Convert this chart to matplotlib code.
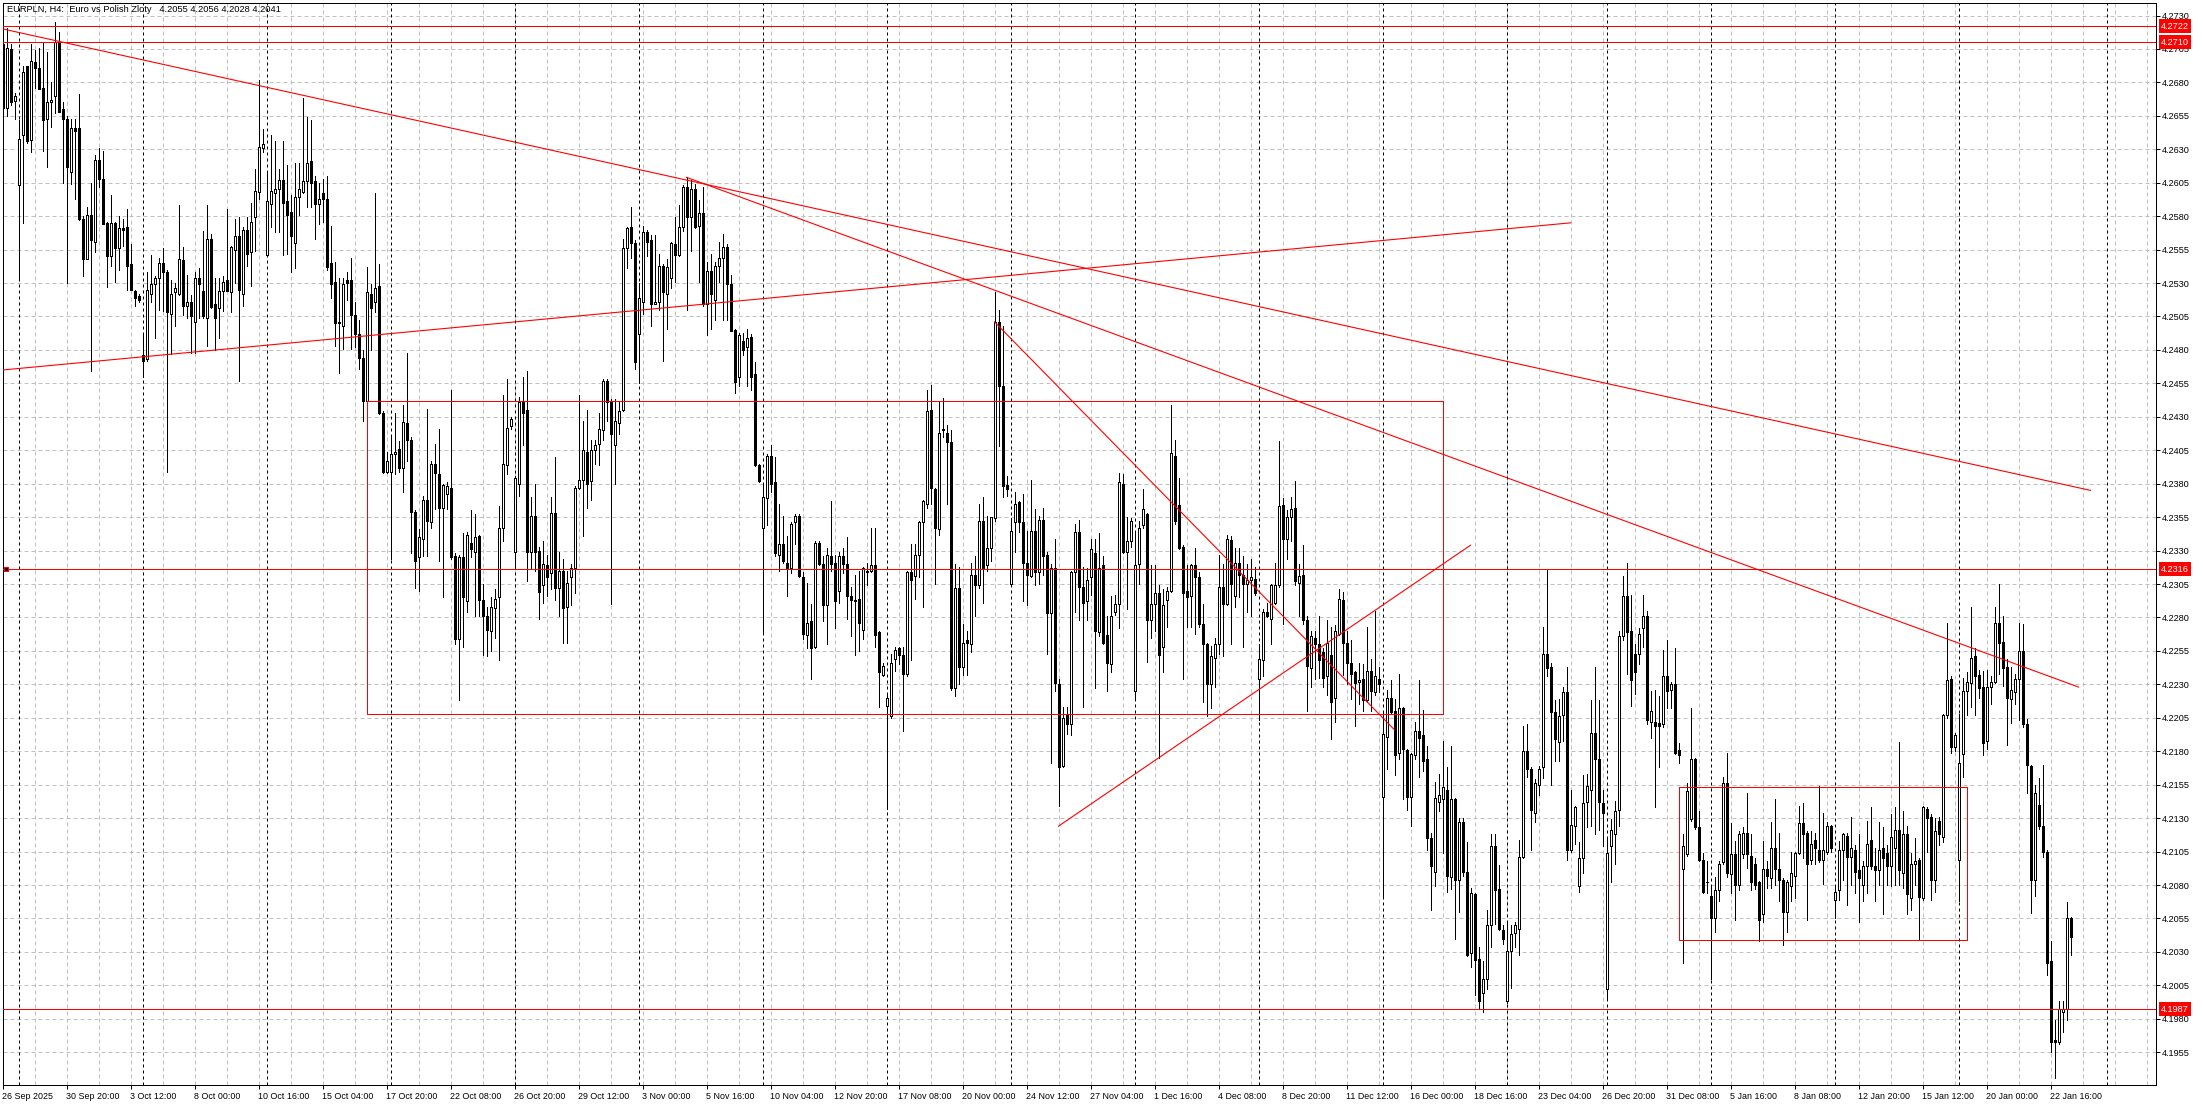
import numpy as np
import matplotlib
matplotlib.use('Agg')
import matplotlib.pyplot as plt
from matplotlib.transforms import blended_transform_factory

plt.rcParams['font.family'] = ['Liberation Sans', 'DejaVu Sans']

# H4 candles, one list per week: open, high, low, close as the digits after "4."
week01 = [(2709,2720,2661,2661),(2661,2721,2655,2706),(2705,2709,2663,2665),(2666,2672,2653,2670)]
week02 = [(2603,2652,2534,2638),(2641,2692,2575,2688),(2692,2692,2635,2636),(2637,2709,2628,2696),(2695,2704,2676,2691),
          (2691,2706,2675,2675),(2676,2710,2629,2652),(2653,2703,2617,2665),(2665,2680,2647,2667),(2670,2725,2657,2710),
          (2710,2718,2658,2658),(2660,2665,2605,2653),(2653,2655,2530,2617),(2613,2653,2604,2646),(2646,2653,2593,2644),
          (2646,2671,2577,2578),(2578,2580,2535,2548),(2548,2587,2548,2581),(2581,2605,2464,2562),(2561,2626,2553,2622),
          (2622,2631,2602,2608),(2608,2629,2574,2574),(2575,2576,2527,2550),(2550,2596,2543,2575),(2575,2576,2531,2556),
          (2556,2580,2540,2571),(2571,2578,2558,2570),(2572,2585,2525,2543),(2544,2559,2525,2525),(2524,2525,2513,2519),
          (2520,2522,2516,2517)]
week03 = [(2476,2493,2460,2472),(2473,2538,2472,2525),(2522,2551,2516,2529),(2529,2535,2489,2534),(2534,2549,2510,2545),
          (2545,2556,2509,2538),(2538,2540,2389,2508),(2507,2532,2477,2522),(2523,2530,2498,2526),(2522,2588,2521,2548),
          (2547,2557,2506,2513),(2513,2536,2504,2516),(2516,2521,2478,2505),(2501,2538,2478,2534),(2534,2541,2504,2529),
          (2524,2569,2504,2505),(2504,2588,2483,2563),(2563,2567,2511,2512),(2514,2534,2480,2504),(2511,2534,2489,2524),
          (2524,2535,2509,2531),(2532,2585,2524,2524),(2523,2558,2508,2557),(2555,2578,2530,2565),(2565,2579,2457,2525),
          (2522,2572,2513,2570),(2570,2579,2543,2552),(2553,2590,2528,2576),(2579,2615,2554,2599),(2598,2682,2593,2632),
          (2631,2645,2628,2634)]
week04 = [(2551,2614,2550,2591),(2589,2641,2572,2599),(2597,2636,2568,2600),(2600,2615,2568,2607),(2607,2636,2551,2590),
          (2591,2618,2552,2581),(2583,2596,2538,2565),(2560,2620,2541,2594),(2594,2620,2581,2600),(2598,2668,2597,2606),
          (2606,2654,2587,2620),(2621,2652,2587,2605),(2606,2610,2563,2589),(2589,2605,2574,2593),(2597,2608,2576,2593),
          (2593,2610,2540,2542),(2545,2573,2519,2529),(2531,2546,2483,2500),(2501,2534,2463,2500),(2498,2534,2481,2529),
          (2532,2538,2517,2530),(2532,2549,2481,2506),(2506,2516,2482,2492),(2492,2502,2466,2474),(2474,2480,2427,2442),
          (2442,2542,2441,2523),(2522,2529,2480,2511),(2516,2597,2508,2526),(2528,2544,2432,2433),(2433,2434,2388,2389),
          (2389,2404,2388,2397)]
week05 = [(2389,2416,2324,2402),(2402,2433,2387,2404),(2406,2412,2389,2392),(2392,2439,2374,2426),(2425,2478,2397,2413),
          (2413,2415,2328,2359),(2359,2360,2302,2322),(2325,2346,2300,2340),(2339,2371,2326,2368),(2368,2436,2326,2352),
          (2351,2397,2347,2395),(2395,2410,2361,2388),(2387,2421,2322,2362),(2362,2380,2295,2379),(2372,2381,2361,2378),
          (2377,2450,2324,2325),(2326,2328,2260,2264),(2264,2327,2218,2325),(2325,2343,2258,2295),(2292,2344,2284,2342),
          (2336,2360,2325,2331),(2329,2357,2281,2340),(2341,2342,2281,2293),(2293,2305,2252,2281),(2281,2288,2251,2271),
          (2270,2295,2255,2288),(2287,2301,2265,2294),(2295,2363,2248,2347),(2347,2446,2337,2395),(2394,2458,2387,2422),
          (2423,2430,2421,2428)]
week06 = [(2329,2386,2316,2384),(2380,2445,2371,2441),(2441,2460,2409,2433),(2435,2464,2307,2329),(2329,2370,2316,2356),
          (2356,2380,2315,2329),(2330,2333,2279,2299),(2304,2337,2291,2320),(2319,2327,2296,2310),(2313,2370,2301,2358),
          (2358,2400,2293,2302),(2302,2329,2281,2315),(2315,2324,2261,2287),(2288,2315,2261,2306),(2310,2320,2289,2317),
          (2317,2378,2298,2377),(2377,2446,2376,2383),(2383,2427,2341,2405),(2404,2435,2362,2380),(2382,2413,2368,2405),
          (2405,2413,2395,2409),(2410,2433,2394,2421),(2420,2458,2413,2457),(2457,2458,2427,2441),(2441,2443,2290,2417),
          (2409,2443,2380,2427),(2425,2442,2417,2434),(2435,2563,2434,2556),(2556,2572,2541,2571),(2572,2587,2549,2560),
          (2560,2562,2466,2471)]
week07 = [(2492,2530,2455,2519),(2516,2573,2507,2568),(2568,2570,2550,2561),(2562,2566,2498,2514),(2514,2566,2514,2516),
          (2516,2552,2510,2543),(2543,2544,2472,2523),(2522,2548,2496,2542),(2534,2561,2526,2560),(2559,2579,2531,2551),
          (2551,2588,2550,2572),(2572,2603,2569,2602),(2602,2609,2510,2579),(2579,2607,2554,2600),(2600,2604,2571,2572),
          (2573,2592,2531,2582),(2582,2602,2513,2514),(2514,2546,2491,2539),(2539,2552,2496,2522),(2517,2546,2502,2543),
          (2543,2561,2531,2549),(2549,2567,2502,2557),(2557,2559,2502,2529),(2529,2536,2494,2494),(2495,2496,2448,2456),
          (2460,2493,2453,2491),(2487,2493,2476,2480),(2482,2496,2453,2489),(2490,2492,2450,2460),(2462,2471,2393,2394),
          (2394,2395,2381,2382)]
week08 = [(2347,2380,2269,2370),(2369,2402,2349,2401),(2401,2409,2374,2380),(2381,2400,2326,2328),(2327,2365,2315,2335),
          (2335,2356,2321,2322),(2321,2341,2296,2317),(2317,2351,2313,2350),(2351,2357,2335,2356),(2356,2357,2310,2311),
          (2310,2314,2264,2268),(2267,2306,2257,2276),(2277,2290,2234,2257),(2258,2337,2257,2336),(2336,2337,2319,2320),
          (2320,2326,2277,2289),(2289,2332,2260,2327),(2326,2367,2315,2320),(2321,2327,2272,2292),(2300,2329,2291,2326),
          (2326,2332,2313,2320),(2320,2340,2279,2296),(2296,2303,2266,2293),(2293,2312,2252,2292),(2294,2315,2255,2276),
          (2271,2318,2264,2317),(2315,2321,2304,2314),(2315,2347,2314,2319),(2319,2347,2258,2267),(2269,2270,2213,2239),
          (2237,2246,2236,2244)]
week09 = [(2214,2222,2137,2220),(2206,2253,2205,2246),(2249,2258,2240,2256),(2257,2258,2245,2252),(2252,2258,2195,2238),
          (2238,2315,2236,2314),(2314,2335,2248,2308),(2311,2335,2294,2327),(2327,2352,2310,2351),(2351,2368,2288,2367),
          (2365,2450,2362,2434),(2435,2454,2365,2377),(2376,2377,2305,2347),(2346,2441,2342,2418),(2421,2444,2415,2420),
          (2418,2424,2365,2411),(2411,2420,2226,2227),(2227,2320,2221,2302),(2302,2318,2230,2243),(2243,2275,2237,2261),
          (2263,2270,2237,2261),(2260,2321,2254,2312),(2312,2326,2281,2304),(2304,2365,2302,2352),(2352,2370,2291,2317),
          (2319,2356,2315,2332),(2332,2355,2322,2355),(2354,2523,2352,2501),(2501,2510,2408,2453),(2453,2498,2370,2378),
          (2379,2386,2371,2376)]
week10 = [(2305,2354,2304,2345),(2351,2374,2329,2365),(2366,2367,2344,2351),(2351,2372,2292,2321),(2321,2345,2289,2312),
          (2311,2383,2310,2345),(2345,2361,2304,2314),(2314,2356,2305,2353),(2353,2362,2312,2326),(2327,2329,2253,2283),
          (2283,2320,2171,2317),(2317,2339,2225,2231),(2230,2234,2139,2168),(2169,2213,2168,2205),(2207,2213,2193,2200),
          (2200,2315,2192,2314),(2314,2350,2284,2344),(2344,2353,2278,2303),(2303,2318,2213,2291),(2292,2317,2278,2308),
          (2310,2339,2297,2331),(2328,2339,2227,2270),(2269,2343,2266,2317),(2319,2326,2260,2261),(2267,2281,2225,2246),
          (2245,2296,2239,2281),(2284,2297,2282,2290),(2290,2388,2272,2381),(2380,2387,2328,2329),(2329,2355,2286,2337),
          (2337,2354,2333,2352)]
week11 = [(2225,2345,2218,2319),(2320,2352,2305,2347),(2349,2376,2347,2361),(2357,2358,2247,2278),(2278,2319,2265,2290),
          (2290,2319,2270,2298),(2298,2304,2175,2252),(2258,2301,2239,2289),(2293,2303,2273,2300),(2300,2439,2299,2403),
          (2401,2413,2350,2352),(2364,2384,2331,2332),(2333,2334,2234,2298),(2300,2319,2273,2295),(2296,2320,2273,2319),
          (2319,2332,2268,2310),(2310,2314,2273,2275),(2275,2290,2217,2260),(2260,2261,2206,2230),(2230,2259,2212,2251),
          (2250,2265,2228,2260),(2260,2327,2253,2303),(2303,2320,2251,2290),(2290,2342,2289,2339),(2338,2341,2260,2305),
          (2296,2332,2288,2321),(2321,2332,2295,2312),(2312,2326,2258,2305),(2305,2320,2284,2308),(2308,2324,2281,2310),
          (2309,2318,2297,2298)]
week12 = [(2234,2260,2203,2249),(2248,2286,2236,2284),(2284,2291,2280,2281),(2279,2305,2260,2304),(2291,2321,2290,2304),
          (2304,2412,2303,2363),(2364,2369,2275,2339),(2339,2360,2324,2355),(2355,2370,2337,2361),(2362,2382,2304,2307),
          (2306,2320,2281,2311),(2312,2334,2275,2278),(2278,2281,2210,2244),(2242,2270,2228,2266),(2265,2270,2234,2260),
          (2260,2281,2235,2248),(2254,2257,2228,2235),(2236,2278,2222,2261),(2252,2273,2189,2217),(2220,2274,2202,2270),
          (2268,2301,2267,2294),(2293,2299,2237,2261),(2261,2270,2230,2246),(2246,2263,2219,2238),(2239,2240,2199,2231),
          (2232,2246,2215,2233),(2234,2245,2210,2218),(2218,2273,2217,2240),(2240,2249,2210,2225),(2224,2285,2222,2236),
          (2234,2243,2224,2230)]
week13 = [(2146,2210,2072,2193),(2191,2226,2167,2220),(2220,2233,2208,2209),(2210,2219,2162,2177),(2179,2238,2174,2212),
          (2212,2213,2144,2182),(2181,2182,2136,2146),(2146,2179,2124,2178),(2177,2202,2174,2195),(2195,2233,2161,2190),
          (2192,2211,2165,2173),(2174,2184,2106,2115),(2115,2119,2061,2094),(2090,2157,2079,2145),(2142,2163,2135,2147),
          (2144,2188,2104,2153),(2151,2168,2075,2087),(2086,2184,2077,2144),(2144,2145,2040,2084),(2084,2130,2060,2127),
          (2127,2130,2087,2090),(2090,2112,2027,2028),(2029,2078,2019,2074),(2073,2074,1998,2024),(2025,2034,1987,1993),
          (1999,2023,1985,2010),(2010,2061,2002,2050),(2050,2118,2034,2109),(2109,2118,2051,2076),(2077,2095,2046,2047),
          (2046,2050,2036,2040)]
week14 = [(1993,2053,1992,2031),(2031,2050,2003,2043),(2044,2052,2034,2050),(2047,2114,2028,2101),(2101,2199,2100,2180),
          (2180,2200,2161,2167),(2167,2168,2106,2136),(2134,2159,2127,2156),(2155,2169,2147,2167),(2168,2273,2160,2253),
          (2253,2316,2236,2242),(2243,2246,2155,2209),(2209,2218,2173,2189),(2187,2219,2173,2206),(2207,2228,2188,2224),
          (2224,2243,2099,2106),(2106,2151,2105,2125),(2124,2139,2111,2138),(2079,2112,2075,2100),(2100,2162,2089,2141),
          (2142,2163,2123,2154),(2151,2218,2124,2194),(2194,2243,2118,2174),(2174,2218,2121,2142),(2141,2151,2109,2134)]
week15 = [(2002,2115,1994,2104),(2109,2129,2082,2121),(2118,2143,2096,2135),(2136,2270,2124,2266),(2266,2311,2263,2296),
          (2296,2321,2238,2269),(2270,2297,2214,2233),(2253,2260,2223,2239),(2253,2272,2245,2268),(2272,2297,2258,2281),
          (2281,2285,2200,2203),(2202,2225,2190,2210),(2202,2226,2138,2199),(2201,2221,2168,2199),(2200,2256,2198,2236),
          (2236,2263,2212,2225),(2226,2232,2212,2230),(2230,2257,2178,2179),(2181,2186,2171,2177),(2092,2118,2022,2109),
          (2103,2156,2102,2150),(2129,2212,2128,2174),(2174,2175,2122,2123),(2123,2135,2098,2099),(2099,2104,2074,2075),
          (2082,2098,2074,2082)]
week16 = [(2072,2080,2010,2055),(2055,2086,2045,2076),(2076,2098,2068,2096),(2097,2161,2096,2156),(2156,2179,2086,2089),
          (2088,2126,2074,2103),(2103,2113,2054,2080),(2080,2120,2076,2118),(2103,2123,2100,2119),(2119,2149,2093,2103),
          (2102,2118,2076,2082),(2096,2100,2077,2080),(2082,2083,2038,2054),(2058,2113,2052,2092),(2092,2098,2078,2087),
          (2085,2127,2078,2108),(2108,2144,2080,2092),(2092,2119,2068,2084),(2084,2085,2035,2060),(2060,2084,2045,2082),
          (2079,2105,2068,2089),(2087,2105,2070,2104),(2104,2139,2103,2126),(2126,2141,2100,2118),(2119,2120,2054,2096),
          (2099,2120,2096,2111),(2114,2119,2096,2108),(2106,2154,2097,2099),(2099,2134,2081,2106),(2105,2127,2103,2124),
          (2124,2125,2105,2108)]
week17 = [(2069,2080,2055,2075),(2076,2113,2069,2106),(2106,2119,2084,2118),(2117,2119,2065,2101),(2101,2131,2080,2108),
          (2106,2110,2074,2090),(2091,2118,2052,2085),(2080,2098,2068,2094),(2094,2128,2074,2111),(2114,2138,2092,2094),
          (2094,2108,2068,2091),(2091,2127,2080,2106),(2108,2123,2058,2100),(2104,2110,2080,2094),(2094,2133,2079,2116),
          (2108,2138,2080,2121),(2121,2187,2080,2091),(2089,2135,2078,2118),(2118,2124,2058,2073),(2070,2104,2061,2096),
          (2096,2115,2080,2098),(2099,2100,2040,2071),(2070,2139,2069,2138),(2137,2138,2105,2130),(2131,2133,2069,2084),
          (2084,2130,2075,2120),(2128,2131,2110,2118),(2116,2208,2112,2207),(2207,2276,2205,2233),(2234,2236,2179,2183),
          (2183,2194,2180,2192)]
week18 = [(2099,2208,2068,2171),(2178,2235,2161,2225),(2225,2239,2207,2232),(2231,2288,2213,2250),(2251,2257,2207,2236),
          (2237,2241,2220,2227),(2228,2240,2177,2186),(2188,2241,2182,2228),(2228,2236,2215,2232),(2232,2288,2231,2276),
          (2276,2305,2238,2261),(2262,2281,2229,2242),(2243,2249,2185,2220),(2219,2243,2201,2226),(2224,2238,2215,2234),
          (2234,2276,2203,2255),(2255,2275,2198,2200),(2200,2204,2149,2170),(2169,2170,2059,2084),(2084,2155,2072,2149),
          (2140,2160,2122,2124),(2124,2170,2101,2105),(2105,2106,2013,2022),(2023,2038,1955,1963),(1964,1979,1936,1963),
          (1963,1993,1961,1987),(1985,1993,1970,1987),(1987,2067,1979,2055),(2055,2056,2028,2041)]

# bars where the black dashed period separators sit
separators = [4, 35, 66, 97, 128, 159, 190, 221, 252, 283, 314, 345, 376, 401, 427, 458, 489, 526]

date_labels = ['26 Sep 2025', '30 Sep 20:00', '3 Oct 12:00', '8 Oct 00:00', '10 Oct 16:00', '15 Oct 04:00',
               '17 Oct 20:00', '22 Oct 08:00', '26 Oct 20:00', '29 Oct 12:00', '3 Nov 00:00', '5 Nov 16:00',
               '10 Nov 04:00', '12 Nov 20:00', '17 Nov 08:00', '20 Nov 00:00', '24 Nov 12:00', '27 Nov 04:00',
               '1 Dec 16:00', '4 Dec 08:00', '8 Dec 20:00', '11 Dec 12:00', '16 Dec 00:00', '18 Dec 16:00',
               '23 Dec 04:00', '26 Dec 20:00', '31 Dec 08:00', '5 Jan 16:00', '8 Jan 08:00', '12 Jan 20:00',
               '15 Jan 12:00', '20 Jan 00:00', '22 Jan 16:00']

levels = [4.2722, 4.2710, 4.2316, 4.1987]

# trend lines: (bar, price, bar, price)
trend_lines = [(0, 4.2720, 522, 4.2375), (171, 4.2609, 519, 4.2228), (0, 4.2465, 392, 4.2575),
               (248, 4.2501, 348, 4.2196), (264, 4.2124, 367, 4.2334)]
# boxes: (bar, price, bar, price)
boxes = [(91, 4.2442, 360, 4.2208), (419, 4.2153, 491, 4.2039)]

title = 'EURPLN, H4:  Euro vs Polish Zloty   4.2055 4.2056 4.2028 4.2041'

W, H = 2203, 1105
PX = 0.72  # one pixel in points at dpi 100
FS = 6.6


def draw_candles(ax, candles):
    ohlc = 4 + np.array(candles) / 10000
    x = np.arange(len(ohlc))
    o, h, l, c = ohlc.T
    ax.vlines(x, l, h, color='black', lw=PX, antialiased=False, zorder=3)
    up = c >= o
    ax.bar(x[up], (c - o)[up], bottom=o[up], width=0.5, facecolor='white', edgecolor='black',
           linewidth=PX, antialiased=False, zorder=4)
    ax.bar(x[~up], (o - c)[~up], bottom=c[~up], width=0.5, facecolor='black', edgecolor='black',
           linewidth=PX, antialiased=False, zorder=4)


def main():
    fig = plt.figure(figsize=(W / 100, H / 100), dpi=100, facecolor='white')
    ax = fig.add_axes([2.5 / W, 1 - 1084.5 / H, 2153 / W, 1082 / H])
    ax.set_xlim(0, 2153 / 4)
    ax.set_ylim(4.2730 - 1069 / 13377, 4.2730 + 13 / 13377)

    for spine in ax.spines.values():
        spine.set_linewidth(PX)

    # grid
    yticks = np.arange(4.2730, 4.1950, -0.0025)
    for y in yticks:
        ax.axhline(y, color='#c0c0c0', lw=PX, ls=(0, (4, 3)), zorder=1)
    for b in range(0, 539, 8):
        ax.axvline(b, color='#c0c0c0', lw=PX, ls=(0, (4, 3)), zorder=1)
    for b in separators:
        ax.axvline(b, color='black', lw=PX, ls=(0, (3, 3)), zorder=2)

    weeks = [week01, week02, week03, week04, week05, week06, week07, week08, week09,
             week10, week11, week12, week13, week14, week15, week16, week17, week18]
    draw_candles(ax, [c for week in weeks for c in week])

    # red objects
    for y in levels:
        ax.axhline(y, color='red', lw=PX, zorder=5)
    for b0, p0, b1, p1 in trend_lines:
        ax.plot([b0, b1], [p0, p1], color='red', lw=0.8, zorder=5)
    for b0, p0, b1, p1 in boxes:
        ax.plot([b0, b1, b1, b0, b0], [p0, p0, p1, p1, p0], color='red', lw=PX, zorder=5)
    ax.plot([0.75], [4.2316], marker='s', ms=3.2, mfc='black', mec='red', mew=PX, ls='none', zorder=6)

    # axes
    ax.yaxis.tick_right()
    ax.set_yticks(yticks)
    ax.set_yticklabels(['%.4f' % y for y in yticks], fontsize=FS)
    ax.tick_params(axis='y', length=2.9, width=PX, pad=1.5)
    ax.set_xticks(np.arange(len(date_labels)) * 16)
    ax.set_xticklabels(date_labels, fontsize=FS - 0.2, ha='left')
    ax.tick_params(axis='x', length=2.9, width=PX, pad=2.2)

    trans = blended_transform_factory(ax.transAxes, ax.transData)
    for y in levels:
        ax.text(1 + 5.5 / 2153, y, '%.4f' % y, transform=trans, color='white', fontsize=FS, va='center', ha='left',
                clip_on=False, zorder=10, bbox=dict(facecolor='red', edgecolor='none', pad=1.8))

    fig.text(6.7 / W, 1 - 9.5 / H, title, fontsize=6.7, va='center', ha='left', color='black')

    fig.savefig('out.png', dpi=100)


if __name__ == "__main__":
    main()
